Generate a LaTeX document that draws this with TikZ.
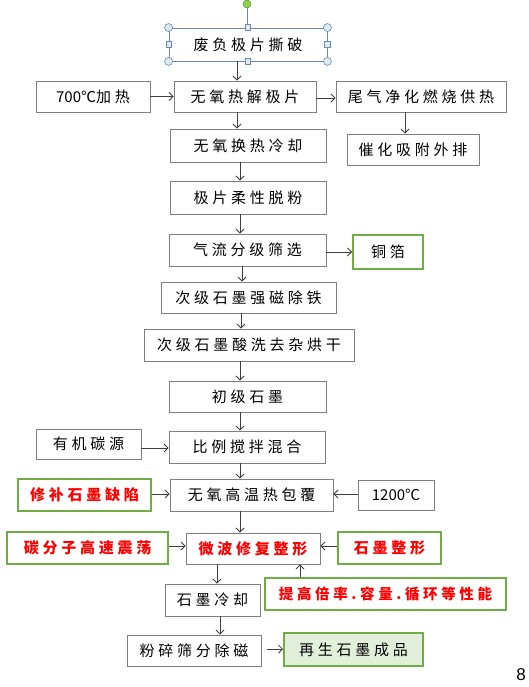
\documentclass[tikz,border=0pt]{standalone}
\usepackage{fontspec}
\setmainfont{Liberation Sans}
\newfontfamily\cjk[LetterSpace=25]{Noto Sans CJK SC}
\newfontfamily\cjkn{Noto Sans CJK SC}
\usetikzlibrary{arrows.meta}
\definecolor{boxgray}{HTML}{7F7F7F}
\definecolor{okgreen}{HTML}{70AD47}
\definecolor{lightgreen}{HTML}{E2EFDA}
\definecolor{selblue}{HTML}{6F8AA8}
\definecolor{handlefill}{HTML}{DCEBF2}
\definecolor{arrowc}{HTML}{3F3F3F}
\definecolor{dotgreen}{HTML}{8CD14A}
\newcommand\vflow[4]{%
  \coordinate (#4) at ([xshift=#3]#1.south);
  \draw[arr] (#4) -- (#4 |- #2.north);}
\newcommand\hflow[4]{%
  \coordinate (#4) at ([yshift=#3]#1.east);
  \draw[arr] (#4) -- (#4 -| #2.west);}
\newcommand\lflow[4]{%
  \coordinate (#4) at ([yshift=#3]#1.west);
  \draw[arr] (#4) -- (#4 -| #2.east);}
\begin{document}
\begin{tikzpicture}[x=1pt,y=-1pt,
  box/.style={draw=boxgray, line width=0.9pt, inner sep=0pt, text=black,
    font=\cjk\fontsize{15}{17}\selectfont},
  gbox/.style={box, draw=okgreen, line width=2pt},
  redt/.style={text=red, font=\cjk\bfseries\fontsize{15}{17}\selectfont},
  arr/.style={draw=arrowc, line width=0.8pt, -{Straight Barb[length=4pt,width=8pt]}},
  hcirc/.style={circle, draw=selblue, fill=handlefill, line width=0.6pt, minimum size=8pt, inner sep=0pt},
  hsq/.style={rectangle, draw=selblue, fill=handlefill, line width=0.6pt, minimum size=5.5pt, inner sep=0pt}]
\useasboundingbox (0,0) rectangle (528,687);
\fill[white] (0,0) rectangle (528,687);

% nodes
\node[box, draw=selblue, minimum width=158, minimum height=33] (top) at (248,44.5) {废负极片撕破};
\node[box, minimum width=114, minimum height=31] (re) at (93,96.5) {{\cjkn 700℃}加热};
\node[box, minimum width=142, minimum height=31] (rj) at (245,96.5) {无氧热解极片};
\node[box, minimum width=170, minimum height=31] (wq) at (421,96.5) {尾气净化燃烧供热};
\node[box, minimum width=156, minimum height=33] (lq) at (248,145.5) {无氧换热冷却};
\node[box, minimum width=132, minimum height=31] (ch) at (413,149.5) {催化吸附外排};
\node[box, minimum width=156, minimum height=33] (tf) at (248,197.5) {极片柔性脱粉};
\node[box, minimum width=157, minimum height=32] (qf) at (247.5,250) {气流分级筛选};
\node[gbox, minimum width=70, minimum height=34] (tb) at (388,252) {铜箔};
\node[box, minimum width=175, minimum height=31] (cj) at (248.5,297.5) {次级石墨强磁除铁};
\node[box, minimum width=210, minimum height=32] (sx) at (249,345) {次级石墨酸洗去杂烘干};
\node[box, minimum width=157, minimum height=31] (cs) at (247.5,396.5) {初级石墨};
\node[box, minimum width=105, minimum height=30] (yj) at (88.5,444) {有机碳源};
\node[box, minimum width=156, minimum height=32] (bl) at (247,447) {比例搅拌混合};
\node[gbox, redt, minimum width=133, minimum height=32] (xb) at (84.5,495) {修补石墨缺陷};
\node[box, minimum width=163, minimum height=32] (gw) at (251.5,495) {无氧高温热包覆};
\node[box, minimum width=76, minimum height=30] (t12) at (396,495) {\cjkn 1200℃};
\node[gbox, redt, minimum width=161, minimum height=32] (tfz) at (87.5,548) {碳分子高速震荡};
\node[box, redt, minimum width=134, minimum height=31] (wb) at (253,548.5) {微波修复整形};
\node[gbox, redt, minimum width=103, minimum height=32] (sz) at (389.5,548) {石墨整形};
\node[gbox, redt, font=\cjk\bfseries\fontsize{14.5}{16}\selectfont, minimum width=241, minimum height=32] (tg) at (385.5,594) {提高倍率.容量.循环等性能};
\node[box, minimum width=95, minimum height=32] (sl) at (212.5,600) {石墨冷却};
\node[box, minimum width=134, minimum height=31] (fs) at (194,650.5) {粉碎筛分除磁};
\node[gbox, fill=lightgreen, minimum width=139, minimum height=33] (zp) at (353.5,649.5) {再生石墨成品};
\node[anchor=east, inner sep=0pt, font=\fontsize{17}{17}\selectfont] (pg) at (526,675) {8};

% selection handles on top box
\node[circle, fill=dotgreen, draw=dotgreen!70!black, line width=0.5pt, minimum size=8pt, inner sep=0pt] (rot) at (247,4) {};
\draw[selblue, line width=0.8pt] (rot.south) -- (rot.south |- top.north);
\foreach \a in {north west, north east, south west, south east} {
  \node[hcirc] at (top.\a) {};
}
\foreach \a in {north, south, west, east} {
  \node[hsq] at (top.\a) {};
}

% connectors
\vflow{top}{rj}{-11pt}{c1}
\hflow{re}{rj}{0pt}{c2}
\hflow{rj}{wq}{-1.5pt}{c3}
\vflow{rj}{lq}{-8pt}{c4}
\vflow{wq}{ch}{-16pt}{c5}
\vflow{lq}{tf}{-8pt}{c6}
\vflow{tf}{qf}{-8pt}{c7}
\hflow{qf}{tb}{-2pt}{c8}
\vflow{qf}{cj}{-5.5pt}{c9}
\vflow{cj}{sx}{-7.5pt}{c10}
\vflow{sx}{cs}{-9pt}{c11}
\vflow{cs}{bl}{-7.5pt}{c12}
\hflow{yj}{bl}{-4pt}{c13}
\vflow{bl}{gw}{-7pt}{c14}
\hflow{xb}{gw}{1pt}{c15}
\lflow{t12}{gw}{1pt}{c16}
\vflow{gw}{wb}{-11.5pt}{c17}
\hflow{tfz}{wb}{2pt}{c18}
\lflow{sz}{wb}{2pt}{c19}
\coordinate (c20) at ([xshift=-85.5pt]tg.north);
\draw[arr] (c20) -- (c20 |- wb.south);
\vflow{wb}{sl}{-36pt}{c21}
\vflow{sl}{fs}{7.5pt}{c22}
\coordinate (c23) at ([yshift=1.5pt,xshift=6pt]fs.east);
\draw[arr] (c23) -- (c23 -| zp.west);
\end{tikzpicture}
\end{document}
